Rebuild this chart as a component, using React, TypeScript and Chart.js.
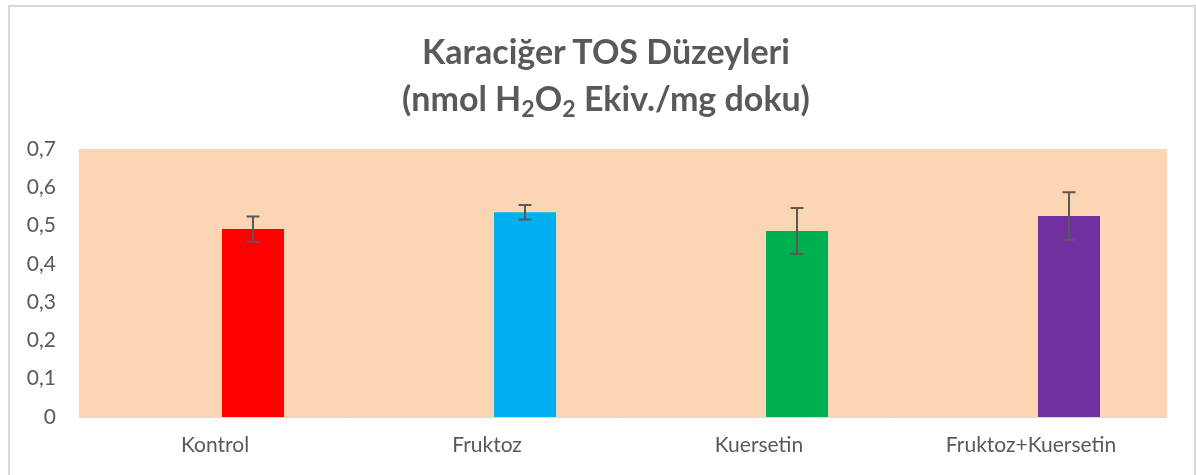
import React, { useEffect, useRef } from "react";
import { Chart, registerables } from "chart.js";

Chart.register(...registerables);

const categories = ["Kontrol", "Fruktoz", "Kuersetin", "Fruktoz+Kuersetin"];
const means = [0.491, 0.535, 0.486, 0.525];
const errors = [0.033, 0.019, 0.06, 0.062];
const barColors = ["#FF0000", "#00B0F0", "#00B050", "#7030A0"];
const emptySeries = [null, null, null, null];
const titleLine1 = "Karaciğer TOS Düzeyleri";
const yTicks = [0, 0.1, 0.2, 0.3, 0.4, 0.5, 0.6, 0.7];

const plotBg = {
  id: "plotBg",
  beforeDraw(chart: any) {
    const { ctx, chartArea } = chart;
    ctx.save();
    ctx.fillStyle = "#FCD5B4";
    ctx.fillRect(chartArea.left, chartArea.top, chartArea.right - chartArea.left, chartArea.bottom - chartArea.top);
    ctx.restore();
  },
};

const errorBars = {
  id: "errorBars",
  afterDatasetsDraw(chart: any) {
    const { ctx } = chart;
    const meta = chart.getDatasetMeta(1);
    const y = chart.scales.y;
    ctx.save();
    ctx.strokeStyle = "#595959";
    ctx.lineWidth = 2;
    meta.data.forEach((bar: any, i: number) => {
      const x = bar.x;
      const top = y.getPixelForValue(means[i] + errors[i]);
      const bot = y.getPixelForValue(means[i] - errors[i]);
      ctx.beginPath();
      ctx.moveTo(x, top);
      ctx.lineTo(x, bot);
      ctx.moveTo(x - 6.5, top);
      ctx.lineTo(x + 6.5, top);
      ctx.moveTo(x - 6.5, bot);
      ctx.lineTo(x + 6.5, bot);
      ctx.stroke();
    });
    ctx.restore();
  },
};

export default function App() {
  const ref = useRef<HTMLCanvasElement | null>(null);
  useEffect(() => {
    if (!ref.current) return;
    const chart = new Chart(ref.current, {
      type: "bar",
      data: {
        labels: categories,
        datasets: [
          { label: "", data: emptySeries as any, backgroundColor: "transparent" },
          { label: "TOS", data: means, backgroundColor: barColors },
        ],
      },
      options: {
        animation: false,
        responsive: true,
        maintainAspectRatio: false,
        layout: { padding: { left: 0, right: 29, top: 149, bottom: 0 } },
        datasets: { bar: { categoryPercentage: 0.559, barPercentage: 0.816 } },
        plugins: {
          legend: { display: false },
          tooltip: { enabled: false },
          title: { display: false },
        },
        scales: {
          x: {
            grid: { display: false, drawTicks: false },
            border: { display: true, color: "#D9D9D9", width: 1 },
            ticks: { color: "#595959", font: { family: "Lato", size: 21 }, padding: 16 },
            afterFit: (s: any) => { s.height = 58; },
          },
          y: {
            min: 0,
            max: 0.7,
            afterBuildTicks: (s: any) => { s.ticks = yTicks.map((v) => ({ value: v })); },
            grid: { display: false, drawTicks: false },
            border: { display: false },
            ticks: {
              color: "#595959",
              font: { family: "Lato", size: 21 },
              padding: 23,
              callback: (v: any) => {
                const n = Math.round(Number(v) * 10) / 10;
                return n === 0 ? "0" : n.toFixed(1).replace(".", ",");
              },
            },
            afterFit: (s: any) => { s.width = 79; },
          },
        },
      },
      plugins: [plotBg, errorBars],
    });
    return () => chart.destroy();
  }, []);
  const lineStyle: React.CSSProperties = { height: 47, lineHeight: "47px", whiteSpace: "nowrap" };
  const subStyle: React.CSSProperties = { fontSize: "0.68em", verticalAlign: "-0.28em", lineHeight: 0 };
  return (
    <div style={{ position: "absolute", left: 0, top: 0, width: 1196, height: 475, background: "#fff", overflow: "hidden" }}>
      <div style={{ position: "absolute", left: 8, top: 5, width: 1188, height: 490, border: "2px solid #D9D9D9", boxSizing: "border-box" }} />
      <div style={{ position: "absolute", left: 0, top: 0, width: 1196, height: 475 }}>
        <canvas ref={ref} />
      </div>
      <div
        style={{
          position: "absolute",
          left: 0,
          top: 27,
          width: 1212,
          textAlign: "center",
          fontFamily: "Lato",
          fontWeight: "bold",
          fontSize: 34,
          color: "#595959",
        }}
      >
        <div style={lineStyle}>{titleLine1}</div>
        <div style={lineStyle}>
          (nmol H<span style={subStyle}>2</span>O<span style={subStyle}>2</span> Ekiv./mg doku)
        </div>
      </div>
    </div>
  );
}
